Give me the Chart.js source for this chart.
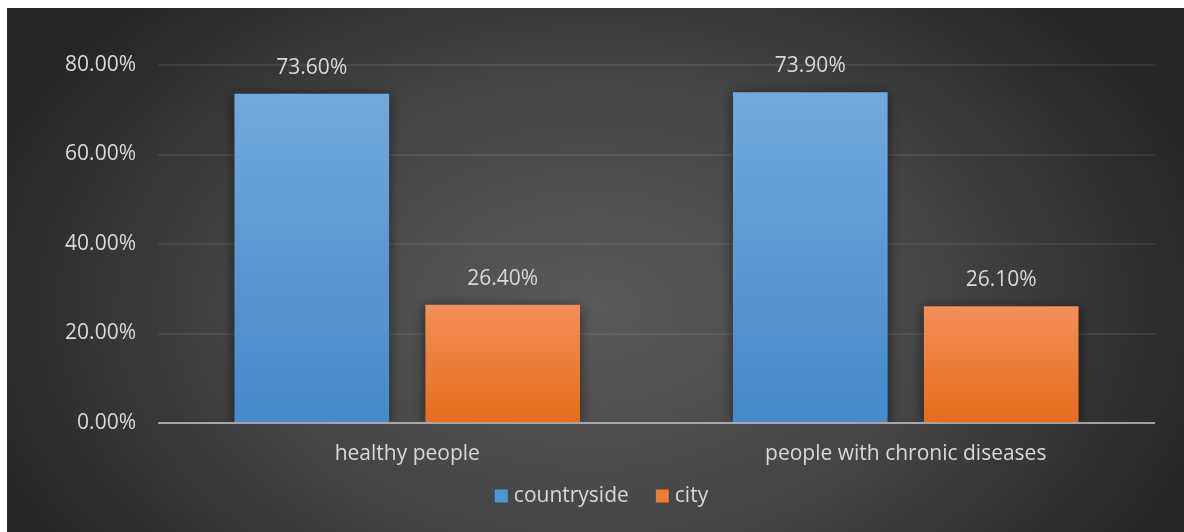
<!DOCTYPE html>
<html>
<head>
<meta charset="utf-8">
<script src="https://cdn.jsdelivr.net/npm/chart.js@4.4.1/dist/chart.umd.min.js"></script>
<style>
  html, body { margin: 0; padding: 0; background: #ffffff; }
  #wrap { position: absolute; left: 7px; top: 8px; width: 1177px; height: 524px; }
</style>
</head>
<body>
<div id="wrap"><canvas id="grafico"></canvas></div>
<script>
// categorie e serie
const CATEGORIE = ["healthy people", "people with chronic diseases"];
const SERIE = ["countryside", "city"];
const VAL_COUNTRYSIDE = [73.6, 73.9];
const VAL_CITY = [26.4, 26.1];
const Y_TICKS = [0, 20, 40, 60, 80];

const TESTO = "#d9d9d9";
const FONT = "Open Sans";
const FONT_SIZE = 21;

// colori barre: [alto, basso]
const BLU = ["#72a8de", "#4489c9"];
const ARANCIO = ["#f28f58", "#e66c1a"];

function gradienteBarra(colori) {
  return function (context) {
    const chart = context.chart;
    const y = chart.scales.y;
    if (!chart.chartArea || !y || context.parsed == null) return colori[1];
    const top = y.getPixelForValue(context.parsed.y);
    const base = y.getPixelForValue(0);
    const g = chart.ctx.createLinearGradient(0, top, 0, base);
    g.addColorStop(0, colori[0]);
    g.addColorStop(1, colori[1]);
    return g;
  };
}

// sfondo scuro con gradiente radiale
const sfondo = {
  id: "sfondo",
  beforeDraw(chart) {
    const { ctx, width, height } = chart;
    ctx.save();
    const cx = 585, cy = 300, rx = 640, ry = 430;
    ctx.translate(cx, cy);
    ctx.scale(rx / ry, 1);
    const g = ctx.createRadialGradient(0, 0, 0, 0, 0, ry);
    g.addColorStop(0, "#5a5a5a");
    g.addColorStop(0.55, "#444444");
    g.addColorStop(1, "#262626");
    ctx.fillStyle = g;
    ctx.fillRect(-cx * ry / rx, -cy, width * ry / rx, height);
    ctx.restore();
  }
};

// ombra sotto le barre, linea dello zero e etichette dei valori
const barreExtra = {
  id: "barreExtra",
  beforeDatasetsDraw(chart) {
    const ctx = chart.ctx;
    ctx.save();
    ctx.shadowColor = "rgba(0,0,0,0.55)";
    ctx.shadowBlur = 12;
    ctx.shadowOffsetX = 0;
    ctx.shadowOffsetY = 2;
  },
  afterDatasetsDraw(chart) {
    const ctx = chart.ctx;
    ctx.restore();

    const area = chart.chartArea;
    const y0 = chart.scales.y.getPixelForValue(0);
    ctx.save();
    ctx.strokeStyle = "rgba(200,200,200,0.75)";
    ctx.lineWidth = 2;
    ctx.beginPath();
    ctx.moveTo(area.left, y0);
    ctx.lineTo(area.right, y0);
    ctx.stroke();

    ctx.fillStyle = TESTO;
    ctx.font = FONT_SIZE + "px '" + FONT + "'";
    ctx.textAlign = "center";
    ctx.textBaseline = "middle";
    chart.data.datasets.forEach((ds, i) => {
      chart.getDatasetMeta(i).data.forEach((bar, j) => {
        ctx.fillText(ds.data[j].toFixed(2) + "%", bar.x, bar.y - 26);
      });
    });
    ctx.restore();
  }
};

// legenda in basso: quadratino + testo, voci vicine
const legenda = {
  id: "legenda",
  afterDraw(chart) {
    const ctx = chart.ctx;
    const box = 13, gapTesto = 6, gapVoci = 27;
    ctx.save();
    ctx.font = FONT_SIZE + "px '" + FONT + "'";
    const voci = chart.data.datasets.map(ds => ({ testo: ds.label, colore: ds.legendColor, w: ctx.measureText(ds.label).width }));
    const totale = voci.reduce((s, v) => s + box + gapTesto + v.w, 0) + gapVoci * (voci.length - 1);
    let x = chart.width / 2 + 6 - totale / 2;
    const y = chart.height - 36;
    ctx.textAlign = "left";
    ctx.textBaseline = "middle";
    voci.forEach(v => {
      ctx.fillStyle = v.colore;
      ctx.fillRect(x, y - box / 2, box, box);
      x += box + gapTesto;
      ctx.fillStyle = TESTO;
      ctx.fillText(v.testo, x, y);
      x += v.w + gapVoci;
    });
    ctx.restore();
  }
};

const grafico = new Chart("grafico", {
  type: "bar",
  data: {
    labels: CATEGORIE,
    datasets: [
      { label: SERIE[0], data: VAL_COUNTRYSIDE, backgroundColor: gradienteBarra(BLU), legendColor: "#5096d6" },
      { label: SERIE[1], data: VAL_CITY, backgroundColor: gradienteBarra(ARANCIO), legendColor: "#ef7d32" }
    ]
  },
  options: {
    responsive: true,
    maintainAspectRatio: false,
    animation: false,
    categoryPercentage: 0.766,
    barPercentage: 0.81,
    layout: { padding: { top: 57, right: 29, left: 0, bottom: 64 } },
    scales: {
      x: {
        grid: { display: false },
        border: { display: false },
        ticks: { color: TESTO, font: { family: FONT, size: FONT_SIZE }, padding: 10 },
        afterFit(scale) { scale.height = 45; }
      },
      y: {
        min: 0,
        max: 80,
        afterBuildTicks(scale) { scale.ticks = Y_TICKS.map(v => ({ value: v })); },
        border: { display: false },
        grid: {
          drawTicks: false,
          lineWidth: 2,
          color: ctx => ctx.tick && ctx.tick.value === 0 ? "rgba(0,0,0,0)" : "rgba(255,255,255,0.07)"
        },
        ticks: {
          color: TESTO,
          font: { family: FONT, size: FONT_SIZE },
          padding: 22,
          callback: v => v.toFixed(2) + "%"
        },
        afterFit(scale) { scale.width = 151; }
      }
    },
    plugins: {
      legend: { display: false },
      tooltip: { enabled: false }
    }
  },
  plugins: [sfondo, barreExtra, legenda]
});
</script>
</body>
</html>
